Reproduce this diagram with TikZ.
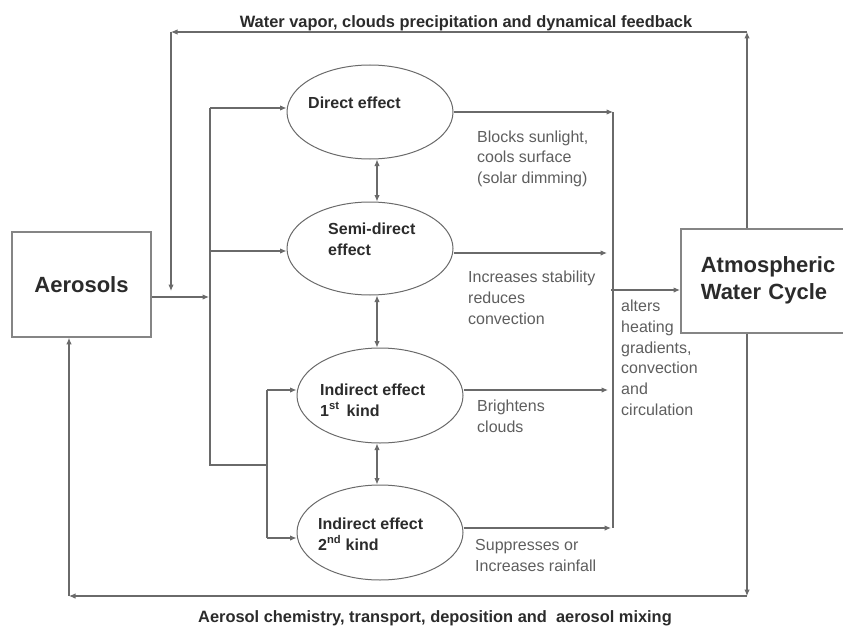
\documentclass[tikz,border=0pt]{standalone}
\usepackage{fontspec}
\setmainfont{Liberation Sans}
\usetikzlibrary{arrows.meta,shapes.geometric,calc}
\definecolor{ln}{HTML}{6A6A6A}
\definecolor{bx}{HTML}{858585}
\definecolor{tx}{HTML}{2B2B2B}
\definecolor{gt}{HTML}{5E5E5E}
\begin{document}
\begin{tikzpicture}[x=1pt,y=-1pt,
  conn/.style={draw=ln, line width=1.1pt},
  arr/.style={conn, -{Latex[length=6.5pt,width=5.5pt]}},
  dbl/.style={conn, {Latex[length=6.5pt,width=5.5pt]}-{Latex[length=6.5pt,width=5.5pt]}},
  eff/.style={ellipse, draw=ln, line width=1pt, inner sep=0pt, minimum width=166pt},
  big/.style={draw=bx, line width=1.6pt, text=tx, font=\bfseries\fontsize{22}{27}\selectfont},
  lbl/.style={anchor=base west, inner sep=0pt, align=left, text=tx, font=\bfseries\fontsize{16}{21}\selectfont},
  note/.style={anchor=base west, inner sep=0pt, align=left, text=gt, font=\fontsize{16}{20.8}\selectfont},
  ttl/.style={anchor=base, inner sep=0pt, text=tx, font=\bfseries\fontsize{16.4}{20}\selectfont}]
\useasboundingbox (0,0) rectangle (843,626);
\clip (0,0) rectangle (843,626);
% boxes
\node[big, minimum width=139pt, minimum height=105pt] (aer) at (81.5,284.5) {Aerosols};
\node[big, anchor=north west, align=left, text width=140pt, inner xsep=20pt, minimum height=104pt] (atm) at (680,228) {Atmospheric\\Water Cycle};
% ellipses
\node[eff, minimum height=94pt] (dir) at (370,112) {};
\node[eff, minimum height=93pt] (semi) at (370,248.5) {};
\node[eff, minimum height=95pt] (ind1) at (380,395.5) {};
\node[eff, minimum height=95pt] (ind2) at (380,532.5) {};
% ellipse labels (base = last line)
\node[lbl] (tdir) at (308,108.5) {Direct effect};
\node[lbl] (tsemi) at (328,255) {Semi-direct\\effect};
\node[lbl] (tind1) at (320,416) {Indirect effect\\1\textsuperscript{st}\, kind};
\node[lbl] (tind2) at (318,550) {Indirect effect\\2\textsuperscript{nd} kind};
% notes (base = last line)
\node[note] (n1) at (477,183.6) {Blocks sunlight,\\cools surface\\(solar dimming)};
\node[note] (n2) at (468,324) {Increases stability\\reduces\\convection};
\node[note] (n3) at (621,415.5) {alters\\heating\\gradients,\\convection\\and\\circulation};
\node[note] (n4) at (477,432.3) {Brightens\\clouds};
\node[note] (n5) at (475,571.3) {Suppresses or\\Increases rainfall};
% titles
\node[ttl] (top) at (466,27.5) {Water vapor, clouds precipitation and dynamical feedback};
\node[ttl] (bot) at (435,622.5) {Aerosol chemistry, transport, deposition and \ aerosol mixing};
% coordinates
\coordinate (tl) at (171,32);
\coordinate (tr) at (747,32);
\coordinate (bl) at (69,596);
\coordinate (br) at (747,596);
\coordinate (drop) at (171,291);
\coordinate (ain) at (209,297);
\coordinate (busT) at (210,108);
\coordinate (busB) at (210,465);
\coordinate (sub) at (267,465);
\coordinate (b2) at (210,251);
\coordinate (c1) at (267,390);
\coordinate (c2) at (267,538);
\coordinate (col) at (613,112);
\coordinate (o2) at (607,253);
\coordinate (o3) at (608,390);
\coordinate (o4) at (611,528);
\coordinate (o5) at (611,290);
\coordinate (ax) at (377,0);
% feedback loops
\draw[arr] (atm.north -| tr) -- (tr);
\draw[arr] (tr) -- (tl);
\draw[arr] (tl) -- (drop);
\draw[arr] (atm.south -| br) -- (br);
\draw[arr] (br) -- (bl);
\draw[arr] (bl) -- (bl |- aer.south);
% input bus
\draw[arr] (aer.east |- ain) -- (ain);
\draw[conn] (busT) -- (busB) -- (sub);
\draw[conn] (c1) -- (c2);
\draw[arr] (busT) -- (busT -| dir.west);
\draw[arr] (b2) -- (b2 -| semi.west);
\draw[arr] (c1) -- (c1 -| ind1.west);
\draw[arr] (c2) -- (c2 -| ind2.west);
% double arrows
\draw[dbl] (dir.south -| ax) -- (semi.north -| ax);
\draw[dbl] (semi.south -| ax) -- (ind1.north -| ax);
\draw[dbl] (ind1.south -| ax) -- (ind2.north -| ax);
% outputs
\draw[arr] (dir.east) -- (col);
\draw[arr] (o2 -| semi.east) -- (o2);
\draw[arr] (o3 -| ind1.east) -- (o3);
\draw[arr] (o4 -| ind2.east) -- (o4);
\draw[conn] (col) -- (col |- o4);
\draw[arr] (o5) -- (o5 -| atm.west);
\end{tikzpicture}
\end{document}
